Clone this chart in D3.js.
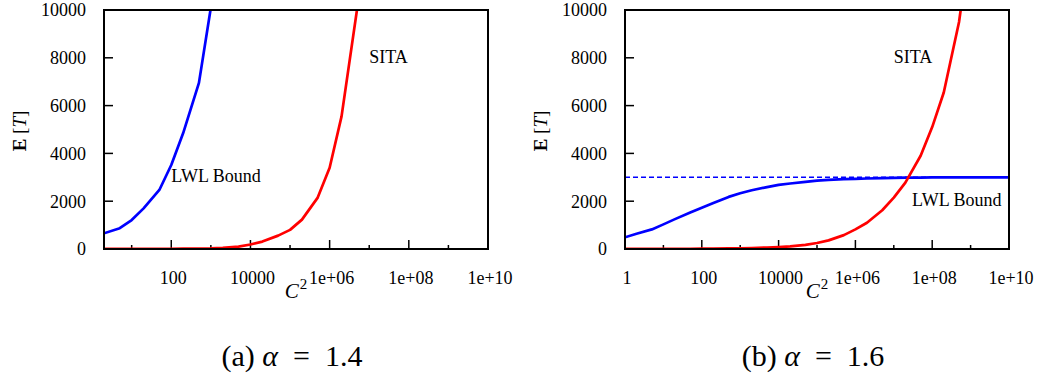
<!DOCTYPE html>
<html>
<head>
<meta charset="utf-8">
<script src="https://cdn.jsdelivr.net/npm/d3@7"></script>
<style>
  body { margin: 0; background: #fff; }
  text { font-family: "Liberation Serif", "Times New Roman", serif; fill: #000; }
</style>
</head>
<body>
<svg id="chart" width="1037" height="377"></svg>
<script>
const yTicks = [0, 2000, 4000, 6000, 8000, 10000];
const xMajorTicks = [1, 100, 1e4, 1e6, 1e8, 1e10];
const xTickLabels = ["1", "100", "10000", "1e+06", "1e+08", "1e+10"];
const xMinorTicks = [10, 1e3, 1e5, 1e7, 1e9];

// (a) alpha = 1.4
const c2LwlA = [2, 5, 10, 20, 50, 100, 200, 500, 1000, 2000];
const lwlA = [657, 870, 1210, 1700, 2470, 3515, 4850, 6950, 10100, 14000];
const c2SitaA = [2, 5, 10, 20, 50, 100, 200, 500, 1000, 2000, 5000, 1e4, 2e4, 5e4, 1e5, 2e5, 5e5, 1e6, 2e6, 5e6];
const sitaA = [3, 4, 5, 6, 8, 10, 13, 18, 25, 45, 100, 190, 310, 560, 800, 1230, 2150, 3400, 5550, 10100];

// (b) alpha = 1.6
const c2B = [1, 2, 5, 10, 20, 50, 100, 200, 500, 1000, 2000, 5000, 1e4, 2e4, 5e4, 1e5, 2e5, 5e5,
             1e6, 2e6, 5e6, 1e7, 2e7, 5e7, 1e8, 2e8, 5e8, 1e9, 1e10];
const lwlB = [490, 640, 820, 1030, 1250, 1530, 1730, 1920, 2180, 2330, 2460, 2590, 2680, 2740, 2810, 2860, 2890, 2920,
              2935, 2950, 2965, 2975, 2983, 2990, 2994, 2997, 2999, 3000, 3000];
const sitaB = [2, 3, 4, 5, 7, 9, 12, 16, 22, 30, 42, 60, 80, 110, 170, 250, 360, 580,
               820, 1100, 1620, 2150, 2780, 3900, 5100, 6550, 9500, 13000, 20000];
const lwlLimitB = 3000;

const panels = [
  { id: "a", left: 104, xMin: 2, lwlX: c2LwlA, lwl: lwlA, sitaX: c2SitaA, sita: sitaA, limit: null,
    caption: ["(a) ", "α", "\u2002=\u20021.4"], lwlLabel: [100, 2800], sitaLabel: [1e7, 7780] },
  { id: "b", left: 625, xMin: 1, lwlX: c2B, lwl: lwlB, sitaX: c2B, sita: sitaB, limit: lwlLimitB,
    caption: ["(b) ", "α", "\u2002=\u20021.6"], lwlLabel: [3e7, 1800], sitaLabel: [1e7, 7780] }
];

const svg = d3.select("#chart");
const W = 384, plotTop = 10, plotBottom = 249;

panels.forEach(p => {
  const x = d3.scaleLog().domain([p.xMin, 1e10]).range([p.left, p.left + W]);
  const y = d3.scaleLinear().domain([0, 10000]).range([plotBottom, plotTop]);
  const g = svg.append("g");

  g.append("clipPath").attr("id", "clip-" + p.id)
    .append("rect").attr("x", p.left).attr("y", plotTop).attr("width", W).attr("height", plotBottom - plotTop);

  // y axis: inner ticks + labels
  g.selectAll(".yt").data(yTicks).enter().append("line")
    .attr("x1", p.left).attr("x2", p.left + 9)
    .attr("y1", d => y(d)).attr("y2", d => y(d))
    .attr("stroke", "#000").attr("stroke-width", 1.5);
  g.selectAll(".yl").data(yTicks).enter().append("text")
    .attr("x", p.left - 18).attr("y", d => y(d)).attr("dy", "0.35em")
    .attr("text-anchor", "end").style("font-size", "18px").text(d => d);

  // x axis: major and minor inner ticks
  const maj = xMajorTicks.filter(d => d > p.xMin);
  g.selectAll(".xt").data(maj).enter().append("line")
    .attr("x1", d => x(d)).attr("x2", d => x(d))
    .attr("y1", plotBottom).attr("y2", plotBottom - 9)
    .attr("stroke", "#000").attr("stroke-width", 1.5);
  g.selectAll(".xm").data(xMinorTicks).enter().append("line")
    .attr("x1", d => x(d)).attr("x2", d => x(d))
    .attr("y1", plotBottom).attr("y2", plotBottom - 4)
    .attr("stroke", "#000").attr("stroke-width", 1.5);
  g.selectAll(".xl").data(xMajorTicks.filter(d => d >= p.xMin)).enter().append("text")
    .attr("x", d => x(d) + 2).attr("y", 284)
    .attr("text-anchor", "middle").style("font-size", "18px")
    .text(d => xTickLabels[xMajorTicks.indexOf(d)]);

  // axis titles
  const xt = g.append("text").attr("x", p.left + W / 2).attr("y", 298)
    .attr("text-anchor", "middle").style("font-size", "21px");
  xt.append("tspan").style("font-style", "italic").text("C");
  xt.append("tspan").attr("dy", -9).attr("dx", 1).style("font-size", "15px").text("2");

  const yt = g.append("text")
    .attr("transform", `translate(${p.left - 78},${131}) rotate(-90)`)
    .attr("text-anchor", "middle").style("font-size", "19px");
  yt.append("tspan").style("font-weight", "bold").text("E");
  yt.append("tspan").text(" [");
  yt.append("tspan").style("font-style", "italic").text("T");
  yt.append("tspan").text("]");

  const plot = g.append("g").attr("clip-path", `url(#clip-${p.id})`);

  if (p.limit !== null) {
    plot.append("line")
      .attr("x1", x(p.xMin)).attr("x2", x(1e10))
      .attr("y1", y(p.limit)).attr("y2", y(p.limit))
      .attr("stroke", "#0000ff").attr("stroke-width", 1.4).attr("stroke-dasharray", "5,3");
  }

  const line = d3.line().x(d => x(d[0])).y(d => y(d[1]));
  plot.append("path")
    .datum(p.lwlX.map((c, i) => [c, p.lwl[i]]))
    .attr("d", line).attr("fill", "none")
    .attr("stroke", "#0000ff").attr("stroke-width", 2.7).attr("stroke-linejoin", "round");
  plot.append("path")
    .datum(p.sitaX.map((c, i) => [c, p.sita[i]]))
    .attr("d", line).attr("fill", "none")
    .attr("stroke", "#ff0000").attr("stroke-width", 2.7).attr("stroke-linejoin", "round");

  // frame
  g.append("rect").attr("x", p.left).attr("y", plotTop).attr("width", W).attr("height", plotBottom - plotTop)
    .attr("fill", "none").attr("stroke", "#000").attr("stroke-width", 2);

  // curve labels
  g.append("text").attr("x", x(p.lwlLabel[0])).attr("y", y(p.lwlLabel[1]))
    .style("font-size", "18px").text("LWL Bound");
  g.append("text").attr("x", x(p.sitaLabel[0])).attr("y", y(p.sitaLabel[1]))
    .style("font-size", "18px").text("SITA");

  // caption
  const cap = g.append("text").attr("x", p.left + W / 2 - 4).attr("y", 366)
    .attr("text-anchor", "middle").style("font-size", "30px");
  cap.append("tspan").text(p.caption[0]);
  cap.append("tspan").style("font-style", "italic").text(p.caption[1]);
  cap.append("tspan").text(p.caption[2]);
});
</script>
</body>
</html>
